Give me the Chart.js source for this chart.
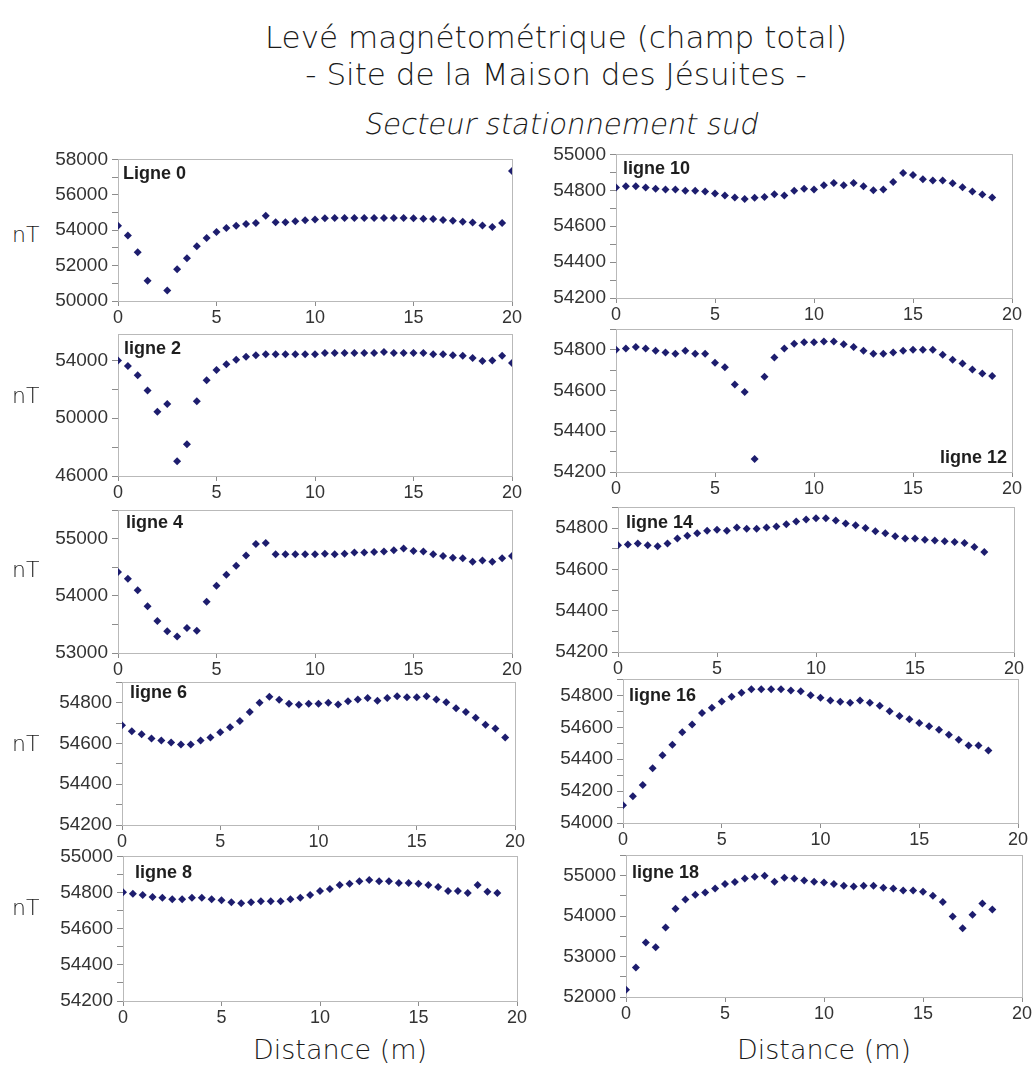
<!DOCTYPE html>
<html lang="fr">
<head>
<meta charset="utf-8">
<title>Levé magnétométrique (champ total)</title>
<script src="https://cdn.jsdelivr.net/npm/chart.js@4.4.1/dist/chart.umd.min.js"></script>
<style>
  html, body { margin: 0; padding: 0; background: #fff; }
  #page { position: relative; width: 1035px; height: 1067px; overflow: hidden; font-family: "DejaVu Sans", sans-serif; font-weight: 200; color: #1a1a1a; }
  .title { position: absolute; left: 556px; transform: translateX(-50%); white-space: nowrap; line-height: 1; }
  .panel { position: absolute; }
  .unit { position: absolute; left: 12px; font-size: 22px; line-height: 1; }
  .axis-title { position: absolute; font-size: 27px; line-height: 1; transform: translateX(-50%); white-space: nowrap; }
</style>
</head>
<body>
<div id="page">
  <div class="title" style="top:22px; font-size:31px;">Levé magnétométrique (champ total)</div>
  <div class="title" style="top:59px; font-size:31px;">- Site de la Maison des Jésuites -</div>
  <div class="title" style="top:110px; font-size:29px; left:562px; transform:translateX(-50%) skewX(-11deg);">Secteur stationnement sud</div>
  <div class="axis-title" style="left:340px; top:1036px;">Distance (m)</div>
  <div class="axis-title" style="left:824px; top:1036px;">Distance (m)</div>
</div>
<script>
// Distance along each line (m)
const distances = [0, 0.5, 1, 1.5, 2, 2.5, 3, 3.5, 4, 4.5, 5, 5.5, 6, 6.5, 7, 7.5, 8, 8.5, 9, 9.5,
  10, 10.5, 11, 11.5, 12, 12.5, 13, 13.5, 14, 14.5, 15, 15.5, 16, 16.5, 17, 17.5, 18, 18.5, 19, 19.5, 20];

// Total field readings (nT), one value per distance, null where no reading
const ligne0 = [54250, 53700, 52750, 51150, null, 50600, 51800, 52420, 53100, 53560,
  53900, 54120, 54250, 54350, 54400, 54820, 54450, 54450, 54500, 54560,
  54600, 54680, 54690, 54690, 54690, 54690, 54690, 54690, 54690, 54690,
  54680, 54640, 54630, 54580, 54540, 54480, 54430, 54260, 54180, 54400, 57350];
const ligne2 = [54000, 53620, 52980, 51920, 50440, 50990, 47020, 48200, 51170, 52620,
  53340, 53730, 54050, 54250, 54360, 54430, 54430, 54430, 54430, 54430,
  54430, 54520, 54520, 54520, 54520, 54520, 54520, 54590, 54520, 54520,
  54520, 54520, 54430, 54430, 54360, 54320, 54160, 53960, 54000, 54320, 53820];
const ligne4 = [54420, 54300, 54100, 53820, 53560, 53380, 53290, 53440, 53390, 53900,
  54180, 54370, 54530, 54710, 54910, 54930, 54730, 54730, 54730, 54730,
  54730, 54740, 54730, 54740, 54760, 54760, 54770, 54780, 54800, 54830,
  54790, 54780, 54730, 54700, 54670, 54660, 54600, 54620, 54600, 54660, 54700];
const ligne6 = [54690, 54660, 54645, 54625, 54615, 54605, 54595, 54595, 54615, 54630,
  54655, 54680, 54710, 54755, 54800, 54830, 54815, 54795, 54790, 54795,
  54795, 54800, 54792, 54808, 54816, 54823, 54810, 54823, 54832, 54827,
  54827, 54832, 54816, 54803, 54773, 54755, 54726, 54692, 54674, 54629, null];
const ligne8 = [54802, 54793, 54787, 54776, 54771, 54763, 54763, 54771, 54771, 54763,
  54758, 54747, 54741, 54747, 54752, 54752, 54752, 54763, 54771, 54787,
  54809, 54820, 54842, 54848, 54862, 54870, 54862, 54862, 54853, 54853,
  54848, 54842, 54831, 54809, 54809, 54798, 54842, 54804, 54798, null, null];
const ligne10 = [54815, 54822, 54822, 54815, 54809, 54804, 54804, 54798, 54798, 54793,
  54782, 54771, 54760, 54752, 54758, 54763, 54778, 54771, 54798, 54809,
  54804, 54828, 54840, 54828, 54840, 54822, 54800, 54804, 54846, 54896,
  54885, 54861, 54855, 54855, 54839, 54817, 54793, 54776, 54760, null, null];
const ligne12 = [54800, 54806, 54814, 54806, 54795, 54787, 54781, 54795, 54781, 54781,
  54736, 54714, 54630, 54593, 54264, 54668, 54762, 54806, 54829, 54837,
  54837, 54841, 54841, 54827, 54814, 54795, 54781, 54781, 54787, 54795,
  54800, 54800, 54800, 54775, 54751, 54733, 54703, 54684, 54671, null, null];
const ligne14 = [54717, 54720, 54725, 54717, 54712, 54725, 54749, 54763, 54775, 54787,
  54792, 54787, 54803, 54797, 54797, 54803, 54808, 54818, 54832, 54841,
  54848, 54848, 54837, 54822, 54813, 54800, 54784, 54775, 54760, 54749,
  54749, 54744, 54740, 54736, 54732, 54728, 54708, 54684, null, null, null];
const ligne16 = [54111, 54167, 54238, 54343, 54424, 54491, 54568, 54618, 54689, 54723,
  54762, 54792, 54817, 54838, 54838, 54838, 54838, 54831, 54825, 54800,
  54785, 54767, 54760, 54754, 54767, 54754, 54735, 54700, 54670, 54650,
  54627, 54606, 54585, 54553, 54522, 54486, 54486, 54455, null, null, null];
const ligne18 = [52180, 52730, 53350, 53230, 53720, 54180, 54410, 54530, 54580, 54680,
  54790, 54840, 54930, 54970, 55000, 54850, 54950, 54930, 54880, 54850,
  54830, 54790, 54750, 54730, 54750, 54750, 54700, 54680, 54630, 54630,
  54600, 54500, 54350, 53990, 53700, 54030, 54310, 54160, null, null, null];

// Labelled y ticks of each panel
const yLabelsL0 = [50000, 52000, 54000, 56000, 58000];
const yLabelsL2 = [46000, 50000, 54000];
const yLabelsL4 = [53000, 54000, 55000];
const yLabelsL6 = [54200, 54400, 54600, 54800];
const yLabelsL8 = [54200, 54400, 54600, 54800, 55000];
const yLabelsL10 = [54200, 54400, 54600, 54800, 55000];
const yLabelsL12 = [54200, 54400, 54600, 54800];
const yLabelsL14 = [54200, 54400, 54600, 54800];
const yLabelsL16 = [54000, 54200, 54400, 54600, 54800];
const yLabelsL18 = [52000, 53000, 54000, 55000];
const xTicks = [0, 5, 10, 15, 20];

// Axis ranges: [min, max, minor tick step]
const rangeL0 = [50000, 58000, 1000];
const rangeL2 = [46000, 55800, 2000];
const rangeL4 = [53000, 55500, 500];
const rangeL6 = [54200, 54900, 100];
const rangeL8 = [54200, 55000, 100];
const rangeL10 = [54200, 55000, 100];
const rangeL12 = [54200, 54900, 100];
const rangeL14 = [54200, 54900, 100];
const rangeL16 = [54000, 54900, 100];
const rangeL18 = [52000, 55500, 500];

// Layout: plot box [left, top, right, bottom] in page pixels, label offset
const panels = [
  { name: 'Ligne 0', values: ligne0, range: rangeL0, labels: yLabelsL0, box: [118, 158, 512, 301], lab: [5, 20], unitY: 224 },
  { name: 'ligne 2', values: ligne2, range: rangeL2, labels: yLabelsL2, box: [118, 333, 512, 476], lab: [6, 20], unitY: 385 },
  { name: 'ligne 4', values: ligne4, range: rangeL4, labels: yLabelsL4, box: [118, 509, 512, 653], lab: [8, 18], unitY: 559 },
  { name: 'ligne 6', values: ligne6, range: rangeL6, labels: yLabelsL6, box: [122, 681, 515, 825], lab: [8, 16], unitY: 733 },
  { name: 'ligne 8', values: ligne8, range: rangeL8, labels: yLabelsL8, box: [123, 855, 517, 1001], lab: [12, 22], unitY: 897 },
  { name: 'ligne 10', values: ligne10, range: rangeL10, labels: yLabelsL10, box: [616, 153, 1012, 298], lab: [7, 20] },
  { name: 'ligne 12', values: ligne12, range: rangeL12, labels: yLabelsL12, box: [616, 328, 1012, 472], lab: [-5, -9], right: true },
  { name: 'ligne 14', values: ligne14, range: rangeL14, labels: yLabelsL14, box: [618, 506, 1014, 652], lab: [8, 21] },
  { name: 'ligne 16', values: ligne16, range: rangeL16, labels: yLabelsL16, box: [623, 678, 1018, 823], lab: [6, 22] },
  { name: 'ligne 18', values: ligne18, range: rangeL18, labels: yLabelsL18, box: [626, 854, 1022, 997], lab: [6, 23] }
];

const AXIS_W = 70;
const X_H = 30;
const PAD_T = 14;
const PAD_R = 16;
const tickFont = '"Liberation Sans", Arial, sans-serif';

// Draws the grey plot frame and the line name inside the plot
const panelDecor = {
  id: 'panelDecor',
  beforeDatasetsDraw(chart, args, opts) {
    const { ctx, chartArea: a } = chart;
    ctx.save();
    ctx.strokeStyle = '#b9b9b9';
    ctx.lineWidth = 1;
    ctx.strokeRect(Math.round(a.left) + 0.5, Math.round(a.top) + 0.5,
      Math.round(a.right - a.left), Math.round(a.bottom - a.top));
    ctx.font = 'bold 18px ' + tickFont;
    ctx.fillStyle = '#1e1e1e';
    if (opts.right) {
      ctx.textAlign = 'right';
      ctx.fillText(opts.text, a.right + opts.dx, a.bottom + opts.dy);
    } else {
      ctx.textAlign = 'left';
      ctx.fillText(opts.text, a.left + opts.dx, a.top + opts.dy);
    }
    ctx.restore();
  }
};

const page = document.getElementById('page');

panels.forEach(p => {
  const [l, t, r, b] = p.box;
  const [yMin, yMax, minor] = p.range;

  const div = document.createElement('div');
  div.className = 'panel';
  div.style.left = (l - AXIS_W) + 'px';
  div.style.top = (t - PAD_T) + 'px';
  div.style.width = (r - l + AXIS_W + PAD_R) + 'px';
  div.style.height = (b - t + PAD_T + X_H) + 'px';
  const canvas = document.createElement('canvas');
  div.appendChild(canvas);
  page.appendChild(div);

  if (p.unitY !== undefined) {
    const u = document.createElement('div');
    u.className = 'unit';
    u.style.top = p.unitY + 'px';
    u.textContent = 'nT';
    page.appendChild(u);
  }

  const points = distances
    .map((d, i) => ({ x: d, y: p.values[i] }))
    .filter(pt => pt.y !== null);

  new Chart(canvas, {
    type: 'scatter',
    data: {
      datasets: [{
        label: p.name,
        data: points,
        pointStyle: 'rectRot',
        pointRadius: 4,
        pointBackgroundColor: '#1d1d6e',
        pointBorderWidth: 0,
        showLine: false
      }]
    },
    options: {
      responsive: true,
      maintainAspectRatio: false,
      animation: false,
      events: [],
      layout: { padding: { top: PAD_T, right: PAD_R, left: 0, bottom: 0 } },
      scales: {
        x: {
          type: 'linear',
          min: xTicks[0],
          max: xTicks[xTicks.length - 1],
          afterBuildTicks: s => { s.ticks = xTicks.map(v => ({ value: v })); },
          ticks: { color: '#333', font: { family: tickFont, size: 18 }, padding: 1, maxRotation: 0, autoSkip: false },
          grid: { drawOnChartArea: false, color: '#8c8c8c', tickLength: 5 },
          border: { color: '#8c8c8c' },
          afterFit: s => { s.height = X_H; }
        },
        y: {
          type: 'linear',
          min: yMin,
          max: yMax,
          // minor tick marks every step, labels only on the listed values
          afterBuildTicks: s => {
            const ticks = [];
            for (let v = yMin; v <= yMax + 0.5; v += minor) ticks.push({ value: v });
            s.ticks = ticks;
          },
          ticks: {
            autoSkip: false,
            color: '#333',
            padding: 4,
            font: { family: tickFont, size: 19 },
            callback: v => (p.labels.includes(Math.round(v)) ? String(Math.round(v)) : '')
          },
          grid: { drawOnChartArea: false, color: '#8c8c8c', tickLength: 6 },
          border: { color: '#8c8c8c' },
          afterFit: s => { s.width = AXIS_W; }
        }
      },
      plugins: {
        legend: { display: false },
        tooltip: { enabled: false },
        panelDecor: { text: p.name, dx: p.lab[0], dy: p.lab[1], right: !!p.right }
      }
    },
    plugins: [panelDecor]
  });
});
</script>
</body>
</html>
